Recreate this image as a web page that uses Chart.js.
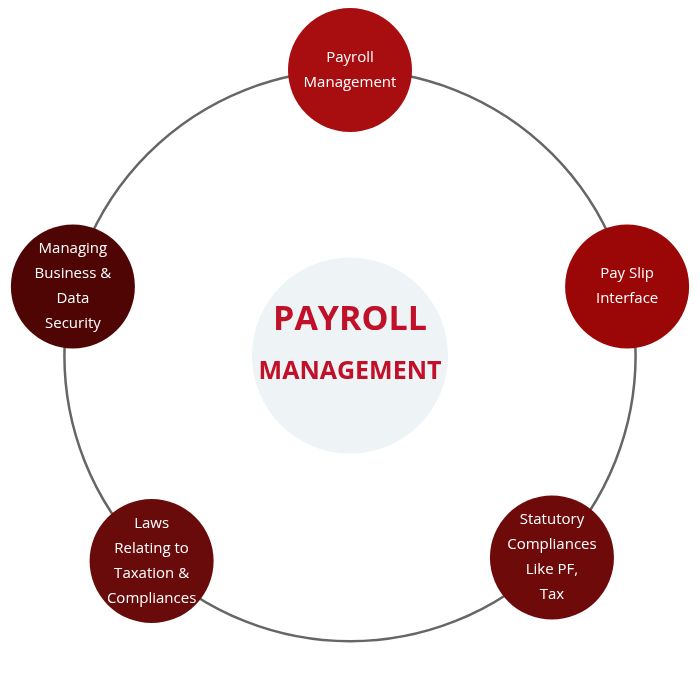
<!DOCTYPE html>
<html>
<head>
<meta charset="utf-8">
<script src="https://cdn.jsdelivr.net/npm/chart.js@4"></script>
<style>
  html, body { margin: 0; padding: 0; background: #fff; }
  #wrap { width: 700px; height: 700px; }
</style>
</head>
<body>
<div id="wrap"><canvas id="chartCycle"></canvas></div>
<script>
// node labels, angles on the ring (degrees), colours
const labels = [
  ['Payroll', 'Management'],
  ['Pay Slip', 'Interface'],
  ['Statutory', 'Compliances', 'Like PF,', 'Tax'],
  ['Laws', 'Relating to', 'Taxation &', 'Compliances'],
  ['Managing', 'Business &', 'Data', 'Security']
]
const angles = [90, 14, -45, -134, 166]
const colors = ['#a80d10', '#9b0606', '#6e0a0a', '#690b0b', '#500505']
const ringRadius = 1.02
const centerTitle = ['PAYROLL', 'MANAGEMENT']

let nodePoints = angles.map(a => ({
  x: ringRadius * Math.cos(a * Math.PI / 180),
  y: ringRadius * Math.sin(a * Math.PI / 180)
}))

const ringPlugin = {
  id: 'ring',
  beforeDatasetsDraw(chart) {
    let ctx = chart.ctx, sx = chart.scales.x, sy = chart.scales.y
    let cx = sx.getPixelForValue(0), cy = sy.getPixelForValue(0)
    let r = sx.getPixelForValue(ringRadius) - cx
    ctx.save()
    ctx.beginPath()
    ctx.arc(cx, cy, r, 0, Math.PI * 2)
    ctx.strokeStyle = '#666'
    ctx.lineWidth = 2.5
    ctx.stroke()
    ctx.restore()
  },
  afterDatasetsDraw(chart) {
    let ctx = chart.ctx
    ctx.save()
    ctx.textAlign = 'center'
    ctx.textBaseline = 'middle'
    // node texts
    ctx.fillStyle = '#fff'
    ctx.font = '15px "Open Sans"'
    chart.getDatasetMeta(1).data.forEach(function (pt, i) {
      let lines = labels[i], lh = 25
      let y0 = pt.y - (lines.length - 1) * lh / 2
      lines.forEach((t, j) => ctx.fillText(t, pt.x, y0 + j * lh))
    })
    // centre title
    let c = chart.getDatasetMeta(0).data[0]
    ctx.fillStyle = '#c0102a'
    ctx.font = 'bold 34px "Open Sans"'
    ctx.fillText(centerTitle[0], c.x, c.y - 35)
    ctx.font = 'bold 25px "Open Sans"'
    ctx.fillText(centerTitle[1], c.x, c.y + 16)
    ctx.restore()
  }
}

new Chart(document.getElementById('chartCycle'), {
  type: 'scatter',
  data: {
    datasets: [{
      data: [{ x: 0, y: 0 }],
      pointRadius: 98,
      pointHoverRadius: 98,
      backgroundColor: '#eef3f5',
      borderWidth: 0,
      clip: false
    }, {
      data: nodePoints,
      pointRadius: 62,
      pointHoverRadius: 62,
      backgroundColor: colors,
      borderWidth: 0,
      clip: false
    }]
  },
  options: {
    responsive: true,
    maintainAspectRatio: false,
    animation: false,
    layout: { padding: 0, autoPadding: false },
    plugins: { legend: { display: false }, tooltip: { enabled: false } },
    events: [],
    scales: {
      x: { display: false, min: -1.25, max: 1.25 },
      y: { display: false, min: -1.23, max: 1.27 }
    }
  },
  plugins: [ringPlugin]
})
</script>
</body>
</html>
